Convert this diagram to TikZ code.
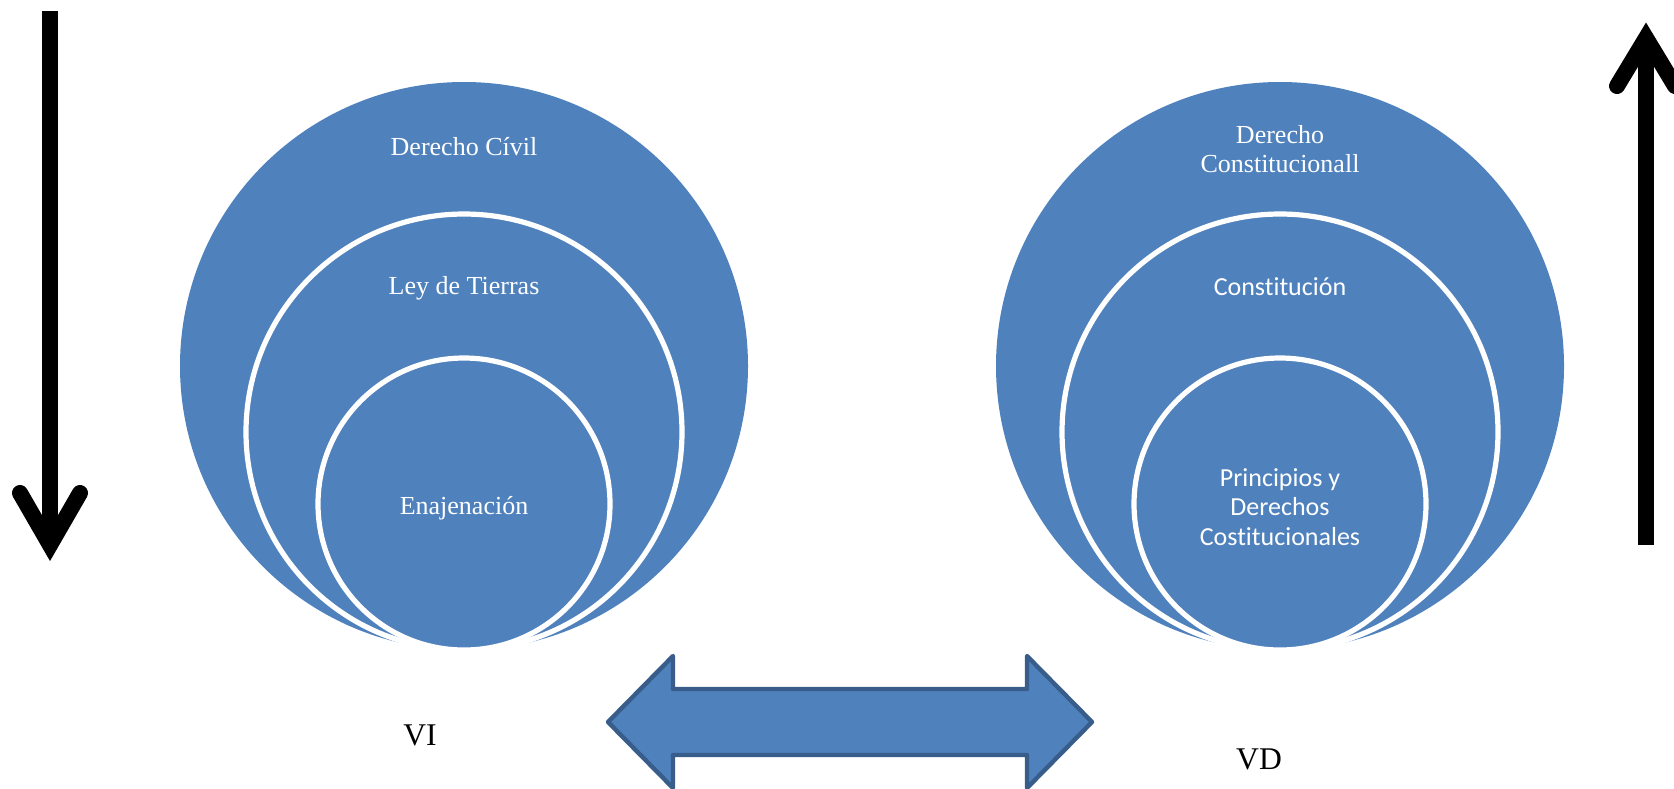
\documentclass[tikz,border=0pt]{standalone}
\usepackage{fontspec}
\setmainfont{Liberation Serif}
\newfontfamily\calibri[RawFeature={-liga,-clig,-dlig,-calt}]{Carlito}
\usepackage{xcolor}
\usepackage{tikz}
\usetikzlibrary{calc, positioning}
\definecolor{azul}{HTML}{4F81BD}
\definecolor{azulborde}{HTML}{385D8A}
\def\anillos#1{
    \begin{scope}[shift={(#1,0)}]
        %Outer circle
        \fill[azul] (0,366) circle[radius=142pt];
        %Middle circle
        \draw[anillo] (0,432) circle[radius=109pt];
        %Inner circle
        \draw[anillo] (0,504) circle[radius=73pt];
    \end{scope}
}

\begin{document}
\begin{tikzpicture}[x=0.5pt, y=-0.5pt,
    anillo/.style={fill=azul, draw=white, line width=2.6pt},
    txtw/.style={text=white, align=center, font=\fontsize{13}{14.6}\selectfont},
    txtc/.style={text=white, align=center, font=\calibri\fontsize{13}{14.8}\selectfont},
    flecha/.style={line width=8pt, black}]
        \useasboundingbox (0,0) rectangle (1674,788);

        % Nested circles, left (VI) and right (VD)
        \anillos{464}
        \anillos{1280}

        % Labels left
        \node[txtw] (civil) at (464,147) {Derecho Cívil};
        \node[txtw] (tierras) at (464,288) {Ley de Tierras};
        \node[txtw] (enaj) at (464,508) {Enajenación};

        % Labels right
        \node[txtw] (dconst) at (1280,149) {Derecho\\Constitucionall};
        \node[txtc] (const) at (1280,287) {Constitución};
        \node[txtc] (princ) at (1280,507) {Principios y\\Derechos\\Costitucionales};

        % Variables
        \node[font=\fontsize{15.8}{18}\selectfont] (vi) at (420,735) {VI};
        \node[font=\fontsize{15.8}{18}\selectfont] (vd) at (1259,759) {VD};

        % Left arrow (down)
        \draw[flecha] (50,11) -- (50,545);
        \draw[flecha, line cap=round, line join=miter] (20,493) -- (50,545) -- (80,493);

        % Right arrow (up)
        \draw[flecha] (1646,545) -- (1646,38);
        \draw[flecha, line cap=round, line join=miter] (1617,86) -- (1646,38) -- (1675,86);

        % Double arrow between VI and VD
        \draw[fill=azul, draw=azulborde, line width=2.2pt, line join=round]
            (608,722) -- (673,656) -- (673,689) -- (1027,689) -- (1027,656) -- (1092,722)
            -- (1027,788) -- (1027,755) -- (673,755) -- (673,788) -- cycle;
\end{tikzpicture}
\end{document}
